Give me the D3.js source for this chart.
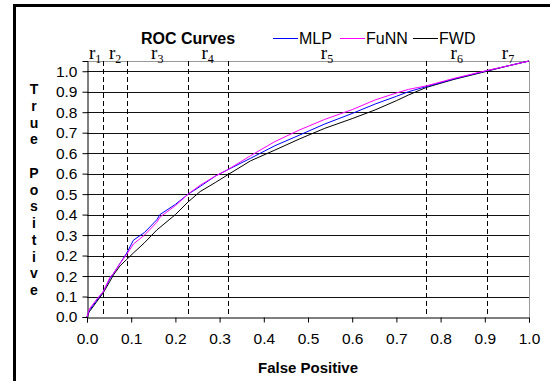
<!DOCTYPE html>
<html>
<head>
<meta charset="utf-8">
<script src="https://cdn.jsdelivr.net/npm/d3@7"></script>
<style>
  body { margin: 0; background: #fff; }
  svg { display: block; font-family: "Liberation Sans", Arial, sans-serif; }
</style>
</head>
<body>
<svg id="chart" width="550" height="381"></svg>
<script>
// false positive rate, shared by all three curves
const fpr = [0, 0.005, 0.02, 0.037, 0.052, 0.06, 0.075, 0.09, 0.105, 0.13, 0.158, 0.165, 0.2, 0.229, 0.256,
  0.29, 0.318, 0.37, 0.425, 0.48, 0.538, 0.6, 0.652, 0.7, 0.727, 0.768, 0.83, 0.905, 0.95, 1.0];
const tprMLP = [0, 0.025, 0.06, 0.10, 0.15, 0.17, 0.21, 0.25, 0.30, 0.33, 0.38, 0.40, 0.44, 0.48, 0.51,
  0.55, 0.575, 0.62, 0.669, 0.71, 0.754, 0.795, 0.832, 0.862, 0.88, 0.90, 0.93, 0.962, 0.98, 1.0];
const tprFuNN = [0, 0.03, 0.065, 0.10, 0.155, 0.17, 0.21, 0.245, 0.285, 0.32, 0.37, 0.39, 0.435, 0.48, 0.515,
  0.55, 0.575, 0.63, 0.685, 0.73, 0.772, 0.81, 0.848, 0.875, 0.889, 0.903, 0.932, 0.963, 0.98, 1.0];
const tprFWD = [0, 0.02, 0.055, 0.095, 0.14, 0.165, 0.20, 0.225, 0.25, 0.29, 0.34, 0.35, 0.40, 0.45, 0.49,
  0.525, 0.555, 0.61, 0.652, 0.695, 0.737, 0.775, 0.809, 0.845, 0.867, 0.897, 0.928, 0.96, 0.98, 1.0];

const seriesNames = ["MLP", "FuNN", "FWD"];
const seriesColors = ["#0000ff", "#ff00ff", "#000000"];

// region borders (dashed) and their labels
const regionBounds = [0.037, 0.09, 0.228, 0.318, 0.768, 0.905];
const regionLabels = ["1", "2", "3", "4", "5", "6", "7"];

const xTicks = [0, 0.1, 0.2, 0.3, 0.4, 0.5, 0.6, 0.7, 0.8, 0.9, 1.0];
const yTicks = [0, 0.08, 0.16, 0.24, 0.32, 0.40, 0.48, 0.56, 0.64, 0.72, 0.80, 0.88, 0.96];

const svg = d3.select("#chart");
const plotLeft = 87, plotRight = 529, plotTop = 61, plotBottom = 317;

// outer frame
svg.append("rect")
  .attr("x", 14.5).attr("y", 5.5)
  .attr("width", 560).attr("height", 400)
  .attr("fill", "none").attr("stroke", "#000").attr("stroke-width", 3);

const x = d3.scaleLinear().domain([0, 1]).range([plotLeft, plotRight]);
const y = d3.scaleLinear().domain([0, 1]).range([plotBottom, plotTop]);

// gridlines
svg.append("g")
  .selectAll("line")
  .data(yTicks.slice(1))
  .enter()
  .append("line")
  .attr("x1", plotLeft).attr("x2", plotRight)
  .attr("y1", d => Math.round(y(d)) + 0.5)
  .attr("y2", d => Math.round(y(d)) + 0.5)
  .attr("stroke", "#111").attr("stroke-width", 1);

// plot border top / right
svg.append("line").attr("x1", plotLeft).attr("x2", plotRight + 0.5)
  .attr("y1", plotTop + 0.5).attr("y2", plotTop + 0.5)
  .attr("stroke", "#999");
svg.append("line").attr("x1", plotRight + 0.5).attr("x2", plotRight + 0.5)
  .attr("y1", plotTop).attr("y2", plotBottom)
  .attr("stroke", "#999");

// dashed region borders
svg.append("g")
  .selectAll("line")
  .data(regionBounds)
  .enter()
  .append("line")
  .attr("x1", d => Math.round(x(d)) + 0.5)
  .attr("x2", d => Math.round(x(d)) + 0.5)
  .attr("y1", plotTop).attr("y2", plotBottom)
  .attr("stroke", "#000")
  .attr("stroke-dasharray", "5,3");

// axes
const xAxis = svg.append("g")
  .attr("transform", "translate(0," + (plotBottom + 0.5) + ")")
  .call(d3.axisBottom(x).tickValues(xTicks).tickFormat(d3.format(".1f")).tickSize(5).tickPadding(10));
const yAxis = svg.append("g")
  .attr("transform", "translate(" + (plotLeft + 0.5) + ",0)")
  .call(d3.axisLeft(y).tickValues(yTicks).tickFormat(d3.format(".1f")).tickSize(5).tickPadding(5));
[xAxis, yAxis].forEach(a => {
  a.selectAll("path.domain").attr("stroke", "#000");
  a.selectAll("text").attr("font-family", "'Liberation Sans', Arial, sans-serif")
    .attr("font-size", 15.5).attr("fill", "#000");
});

// curves
const tprs = [tprMLP, tprFuNN, tprFWD];
const line = d3.line().x(d => x(d[0])).y(d => y(d[1]));
// draw FWD first so colored lines stay on top
[2, 0, 1].forEach(i => {
  svg.append("path")
    .datum(fpr.map((f, j) => [f, tprs[i][j]]))
    .attr("d", line)
    .attr("fill", "none")
    .attr("stroke", seriesColors[i])
    .attr("stroke-width", 1);
});

// region labels r1..r7
const mids = [0].concat(regionBounds).map((b, i, arr) => (b + (i + 1 < arr.length ? arr[i + 1] : 1)) / 2);
regionLabels.forEach((lab, i) => {
  const t = svg.append("text")
    .attr("x", x(mids[i]))
    .attr("y", 59)
    .attr("text-anchor", "middle")
    .attr("font-family", "'Liberation Serif', 'Times New Roman', serif")
    .attr("font-size", 19)
    .attr("fill", "#000");
  t.append("tspan").text("r");
  t.append("tspan").attr("font-size", 12).attr("dy", 4).text(lab);
});

// title
svg.append("text")
  .attr("x", 188).attr("y", 44)
  .attr("text-anchor", "middle")
  .attr("font-size", 16).attr("font-weight", "bold")
  .text("ROC Curves");

// legend
const legendX = [273, 340, 413];
seriesNames.forEach((name, i) => {
  svg.append("line")
    .attr("x1", legendX[i]).attr("x2", legendX[i] + 25)
    .attr("y1", 38.5).attr("y2", 38.5)
    .attr("stroke", seriesColors[i]);
  svg.append("text")
    .attr("x", legendX[i] + 26).attr("y", 44)
    .attr("font-size", 16)
    .text(name);
});

// axis titles
svg.append("text")
  .attr("x", x(0.5)).attr("y", 373)
  .attr("text-anchor", "middle")
  .attr("font-size", 15).attr("font-weight", "bold")
  .text("False Positive");

const yTitle = "True Positive".split("");
svg.append("g")
  .selectAll("text")
  .data(yTitle)
  .enter()
  .append("text")
  .attr("x", 34)
  .attr("y", (d, i) => 94 + i * 16.75)
  .attr("text-anchor", "middle")
  .attr("font-size", 14).attr("font-weight", "bold")
  .text(d => d);
</script>
</body>
</html>
